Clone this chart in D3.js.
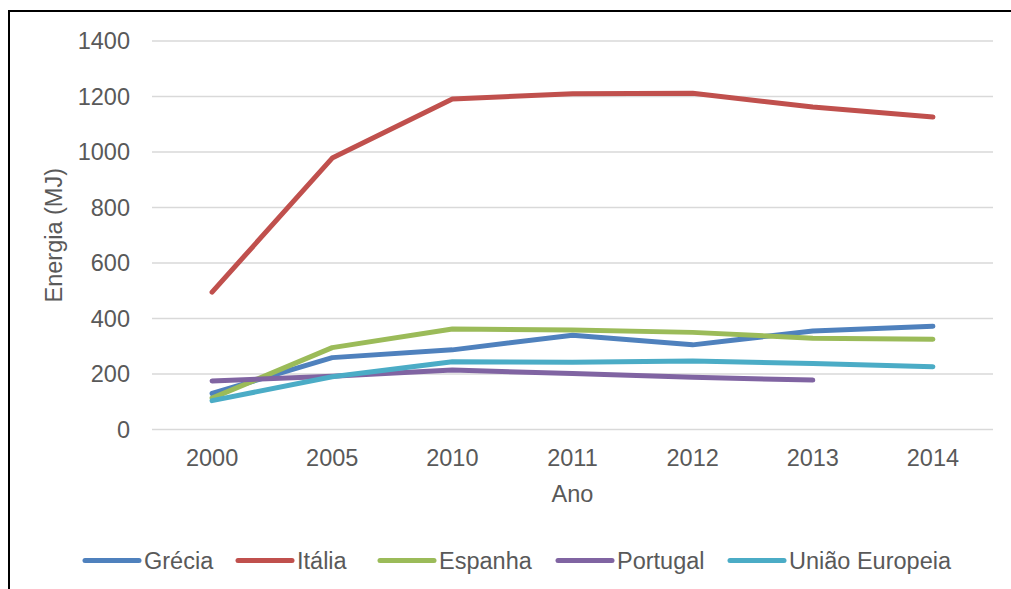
<!DOCTYPE html>
<html>
<head>
<meta charset="utf-8">
<script src="https://cdn.jsdelivr.net/npm/d3@7"></script>
<style>
  html, body { margin: 0; padding: 0; background: #fff; }
  svg { display: block; font-family: "Liberation Sans", Arial, sans-serif; }
</style>
</head>
<body>
<svg id="chart" width="1011" height="589"></svg>
<script>
// Energy per year by region (MJ)
const years = ["2000", "2005", "2010", "2011", "2012", "2013", "2014"];
const yTicks = [0, 200, 400, 600, 800, 1000, 1200, 1400];
const seriesNames = ["Grécia", "Itália", "Espanha", "Portugal", "União Europeia"];
const seriesColors = ["#4F81BD", "#C0504D", "#9BBB59", "#8064A2", "#4BACC6"];

const grecia   = [130, 259, 287, 340, 305, 355, 372];
const italia   = [495, 978, 1191, 1210, 1212, 1162, 1126];
const espanha  = [113, 295, 362, 359, 350, 329, 325];
const portugal = [175, 192, 214, 202, 188, 178, null];
const ue       = [104, 190, 244, 242, 247, 238, 226];

const seriesValues = [grecia, italia, espanha, portugal, ue];

const FONT = "'Liberation Sans', Arial, sans-serif";
const FONT_SIZE = "23.5px";
const TEXT_COLOR = "#595959";

const svg = d3.select("#chart");
const plot = { left: 152, right: 993, top: 41, bottom: 429.5 };

// Outer frame: top and left edges visible
svg.append("path")
  .attr("d", "M9,620 L9,11 L1011,11")
  .attr("fill", "none")
  .attr("stroke", "#000")
  .attr("stroke-width", 2);

const x = d3.scaleBand().domain(years).range([plot.left, plot.right]);
const y = d3.scaleLinear().domain([0, 1400]).range([plot.bottom, plot.top]);

// Horizontal gridlines
svg.append("g")
  .selectAll("line")
  .data(yTicks)
  .join("line")
  .attr("x1", plot.left).attr("x2", plot.right)
  .attr("y1", d => y(d)).attr("y2", d => y(d))
  .attr("stroke", "#d9d9d9")
  .attr("stroke-width", 1.5);

// Y axis tick labels
const yAxis = d3.axisLeft(y).tickValues(yTicks).tickFormat(d3.format("d"))
  .tickSize(0).tickPadding(22);
const gy = svg.append("g").attr("transform", `translate(${plot.left},0)`).call(yAxis);
gy.select(".domain").remove();
gy.selectAll("text")
  .attr("fill", TEXT_COLOR)
  .style("font-size", FONT_SIZE)
  .style("font-family", FONT);

// X axis tick labels
const xAxis = d3.axisBottom(x).tickSize(0).tickPadding(20);
const gx = svg.append("g").attr("transform", `translate(0,${plot.bottom})`).call(xAxis);
gx.select(".domain").remove();
gx.selectAll("text")
  .attr("fill", TEXT_COLOR)
  .style("font-size", FONT_SIZE)
  .style("font-family", FONT);

// Axis titles
svg.append("text")
  .attr("x", (plot.left + plot.right) / 2)
  .attr("y", 502)
  .attr("text-anchor", "middle")
  .attr("fill", TEXT_COLOR)
  .style("font-size", FONT_SIZE)
  .text("Ano");

svg.append("text")
  .attr("transform", `translate(62,${(plot.top + plot.bottom) / 2}) rotate(-90)`)
  .attr("text-anchor", "middle")
  .attr("fill", TEXT_COLOR)
  .style("font-size", FONT_SIZE)
  .text("Energia (MJ)");

// Series lines
const line = d3.line()
  .defined(d => d != null)
  .x((d, i) => x(years[i]) + x.bandwidth() / 2)
  .y(d => y(d));

svg.append("g")
  .selectAll("path")
  .data(seriesValues)
  .join("path")
  .attr("d", d => line(d))
  .attr("fill", "none")
  .attr("stroke", (d, i) => seriesColors[i])
  .attr("stroke-width", 5)
  .attr("stroke-linecap", "round")
  .attr("stroke-linejoin", "round");

// Legend: each entry is a short line swatch followed by its label
const legendY = 560.5;
const legendSlots = [85, 238, 380, 558, 730];
const legend = svg.append("g");
seriesNames.forEach((name, i) => {
  const x0 = legendSlots[i];
  legend.append("line")
    .attr("x1", x0).attr("x2", x0 + 54)
    .attr("y1", legendY).attr("y2", legendY)
    .attr("stroke", seriesColors[i])
    .attr("stroke-width", 5)
    .attr("stroke-linecap", "round");
  legend.append("text")
    .attr("x", x0 + 59)
    .attr("y", legendY + 8)
    .attr("fill", TEXT_COLOR)
    .style("font-size", FONT_SIZE)
    .text(name);
});
</script>
</body>
</html>
